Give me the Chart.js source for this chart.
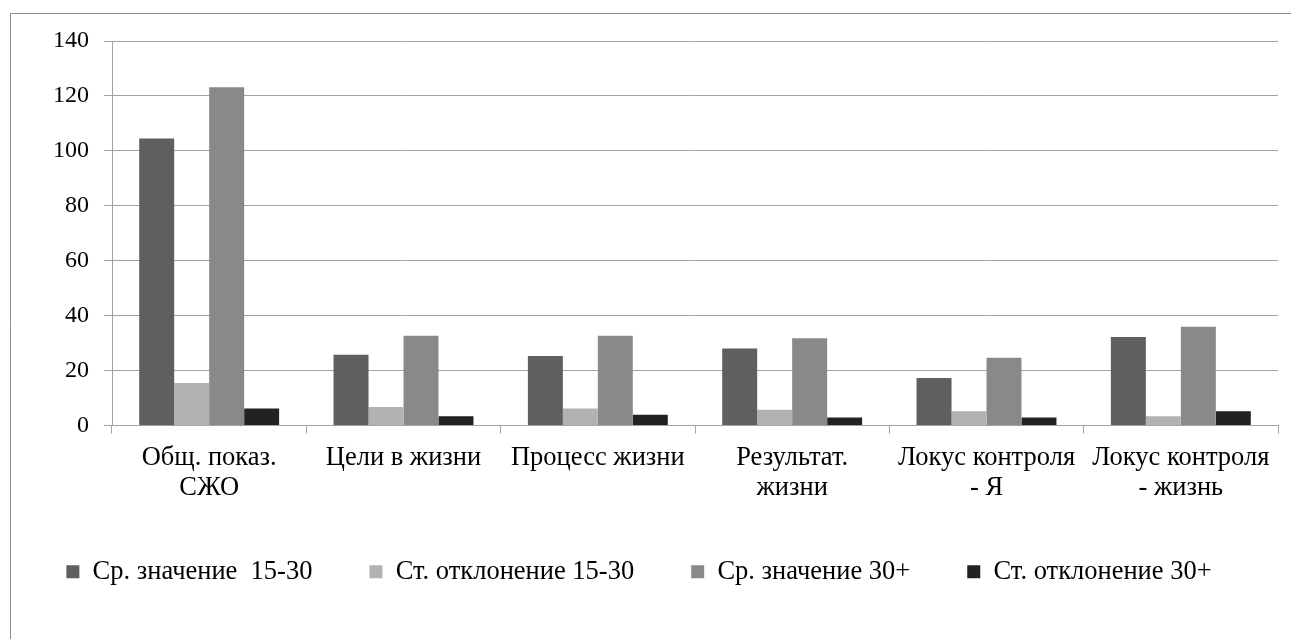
<!DOCTYPE html>
<html>
<head>
<meta charset="utf-8">
<script src="https://cdn.jsdelivr.net/npm/chart.js@4.4.0/dist/chart.umd.min.js"></script>
<style>
  html, body { margin: 0; padding: 0; background: #fff; }
  #wrap { width: 1291px; height: 639px; position: relative; }
</style>
</head>
<body>
<div id="wrap"><canvas id="c" width="1291" height="639"></canvas></div>
<script>
const categories = [
  ["Общ. показ.", "СЖО"],
  "Цели в жизни",
  "Процесс жизни",
  ["Результат.", "жизни"],
  ["Локус контроля", "- Я"],
  ["Локус контроля", "- жизнь"]
];
const seriesNames = ["Ср. значение  15-30", "Ст. отклонение 15-30", "Ср. значение 30+", "Ст. отклонение 30+"];
const mean1530 = [104.5, 25.8, 25.3, 28.0, 17.3, 32.2];
const sd1530 = [15.5, 6.7, 6.2, 5.7, 5.2, 3.4];
const mean30 = [123.2, 32.7, 32.7, 31.8, 24.7, 36.0];
const sd30 = [6.2, 3.4, 3.9, 2.9, 2.9, 5.2];
const yTicks = [0, 20, 40, 60, 80, 100, 120, 140];

const colors = ["#5f5f5f", "#b2b2b2", "#898989", "#222222"];
const values = [mean1530, sd1530, mean30, sd30];

const gridColor = "#a3a3a3";
const fontFamily = "'Liberation Serif', 'Times New Roman', serif";

const borderPlugin = {
  id: 'outerBorder',
  beforeDraw(chart) {
    const ctx = chart.ctx;
    ctx.save();
    ctx.fillStyle = '#fff';
    ctx.fillRect(0, 0, chart.width, chart.height);
    ctx.strokeStyle = '#8c8c8c';
    ctx.lineWidth = 1;
    ctx.beginPath();
    ctx.moveTo(10.5, chart.height + 2);
    ctx.lineTo(10.5, 13.5);
    ctx.lineTo(chart.width + 2, 13.5);
    ctx.stroke();
    ctx.restore();
  }
};

new Chart(document.getElementById('c'), {
  type: 'bar',
  data: {
    labels: categories,
    datasets: seriesNames.map((n, i) => ({
      label: n,
      data: values[i],
      backgroundColor: colors[i],
      borderWidth: 0,
      categoryPercentage: 0.72,
      barPercentage: 1.0
    }))
  },
  options: {
    responsive: false,
    animation: false,
    layout: { padding: { left: 0, right: 13, top: 41, bottom: 44 } },
    plugins: {
      tooltip: { enabled: false },
      legend: {
        position: 'bottom',
        labels: {
          boxWidth: 13,
          boxHeight: 13,
          padding: 57,
          color: '#000',
          font: { family: fontFamily, size: 26.5 }
        }
      }
    },
    scales: {
      x: {
        grid: { display: true, drawOnChartArea: false, drawTicks: true, tickLength: 8, color: gridColor, offset: true },
        border: { display: true, color: gridColor, width: 1 },
        ticks: {
          color: '#000',
          font: { family: fontFamily, size: 26.5, lineHeight: 1.13 },
          maxRotation: 0, minRotation: 0, autoSkip: false, padding: 10
        },
        afterFit(scale) { scale.height = 76; }
      },
      y: {
        min: 0, max: 140,
        afterBuildTicks(scale) { scale.ticks = yTicks.map(v => ({ value: v })); },
        grid: { color: gridColor, tickLength: 8, lineWidth: 1 },
        border: { display: true, color: gridColor, width: 1 },
        ticks: {
          color: '#000',
          font: { family: fontFamily, size: 24 },
          padding: 15
        },
        afterFit(scale) { scale.width = 112; }
      }
    }
  },
  plugins: [borderPlugin]
});
</script>
</body>
</html>
